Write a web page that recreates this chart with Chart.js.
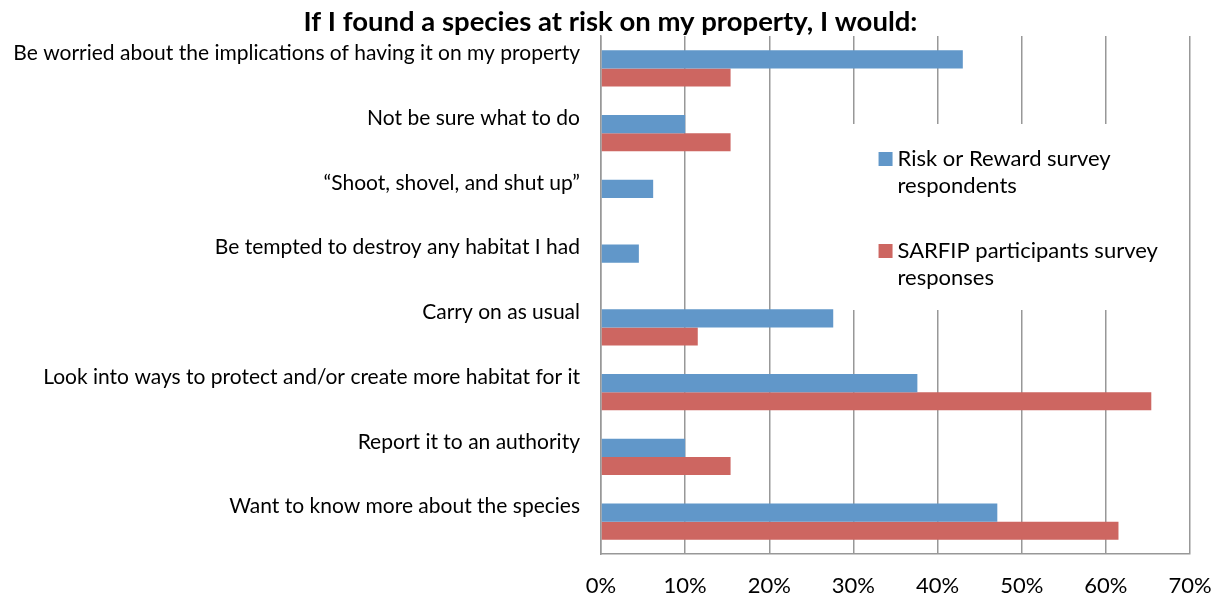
<!DOCTYPE html>
<html>
<head>
<meta charset="utf-8">
<title>Species at risk survey</title>
<script src="https://cdn.jsdelivr.net/npm/chart.js@4/dist/chart.umd.min.js"></script>
<style>
    html, body { margin: 0; padding: 0; background: #ffffff; }
    #chart { display: block; }
</style>
</head>
<body>
<canvas id="chart" width="1221" height="598"></canvas>
<script>
// Survey answers, top to bottom
const answers = [
    'Be worried about the implications of having it on my property',
    'Not be sure what to do',
    '\u201CShoot, shovel, and shut up\u201D',
    'Be tempted to destroy any habitat I had',
    'Carry on as usual',
    'Look into ways to protect and/or create more habitat for it',
    'Report it to an authority',
    'Want to know more about the species'
];

// Percent of respondents choosing each answer
const riskRewardValues = [43.0, 10.0, 6.2, 4.5, 27.6, 37.6, 10.0, 47.1];
const sarfipValues = [15.4, 15.4, null, null, 11.5, 65.4, 15.4, 61.5];

const seriesNames = [
    ['Risk or Reward survey', 'respondents'],
    ['SARFIP participants survey', 'responses']
];
const seriesColors = ['#6197C9', '#CD6661'];

const xTicks = [0, 10, 20, 30, 40, 50, 60, 70];

const chartTitle = 'If I found a species at risk on my property, I would:';

const FONT = 'Lato, "Open Sans", sans-serif';
const GRID = '#989898';

// Title is centred on the whole canvas rather than the padded layout box
const centredTitle = {
    id: 'centredTitle',
    afterDraw(chart) {
        const ctx = chart.ctx;
        ctx.save();
        ctx.font = 'bold 27.5px ' + FONT;
        ctx.fillStyle = '#000000';
        ctx.textAlign = 'center';
        ctx.textBaseline = 'middle';
        ctx.fillText(chartTitle, chart.width / 2, 22);
        ctx.restore();
    }
};

// Legend sits inside the plot on a white box, like the spreadsheet original
const boxedLegend = {
    id: 'boxedLegend',
    afterDatasetsDraw(chart) {
        const ctx = chart.ctx;
        const area = chart.chartArea;
        const left = area.left + area.width * 0.405;
        const top = area.top + 88;
        const w = area.width * 0.565;
        const h = 186;
        ctx.save();
        ctx.fillStyle = '#ffffff';
        ctx.fillRect(left, top, w, h);
        ctx.font = '22px ' + FONT;
        ctx.textBaseline = 'middle';
        seriesNames.forEach((lines, i) => {
            const y0 = top + 35 + i * 92;
            ctx.fillStyle = seriesColors[i];
            ctx.fillRect(left + 39, y0 - 7, 14, 14);
            ctx.fillStyle = '#000000';
            lines.forEach((line, j) => {
                ctx.fillText(line, left + 58, y0 + j * 27);
            });
        });
        ctx.restore();
    }
};

new Chart(document.getElementById('chart'), {
    type: 'bar',
    data: {
        labels: answers,
        datasets: [
            {
                label: seriesNames[0].join(' '),
                data: riskRewardValues,
                backgroundColor: seriesColors[0],
                categoryPercentage: 0.56,
                barPercentage: 1.0
            },
            {
                label: seriesNames[1].join(' '),
                data: sarfipValues,
                backgroundColor: seriesColors[1],
                categoryPercentage: 0.56,
                barPercentage: 1.0
            }
        ]
    },
    options: {
        indexAxis: 'y',
        responsive: false,
        devicePixelRatio: 1,
        animation: false,
        layout: { padding: { left: 0, right: 31, top: 36, bottom: 0 } },
        plugins: {
            legend: { display: false },
            tooltip: { enabled: false },
            title: { display: false }
        },
        scales: {
            x: {
                min: 0,
                max: 70,
                afterBuildTicks: scale => {
                    scale.ticks = xTicks.map(v => ({ value: v }));
                },
                afterFit: scale => {
                    scale.height = 44;
                    // the last tick label fits inside the layout padding
                    scale.paddingRight = 0;
                },
                ticks: {
                    color: '#000000',
                    font: { family: FONT, size: 22 },
                    padding: 19,
                    callback: v => v + '%'
                },
                grid: {
                    color: GRID,
                    lineWidth: 1.5,
                    drawTicks: false
                },
                border: { display: true, color: GRID, width: 1.5 }
            },
            y: {
                afterFit: scale => { scale.width = 601; },
                ticks: {
                    color: '#000000',
                    font: { family: FONT, size: 21 },
                    padding: 21,
                    labelOffset: -15,
                    autoSkip: false
                },
                grid: { display: false, drawTicks: false },
                border: { display: true, color: GRID, width: 1.5 }
            }
        }
    },
    plugins: [boxedLegend, centredTitle]
});
</script>
</body>
</html>
